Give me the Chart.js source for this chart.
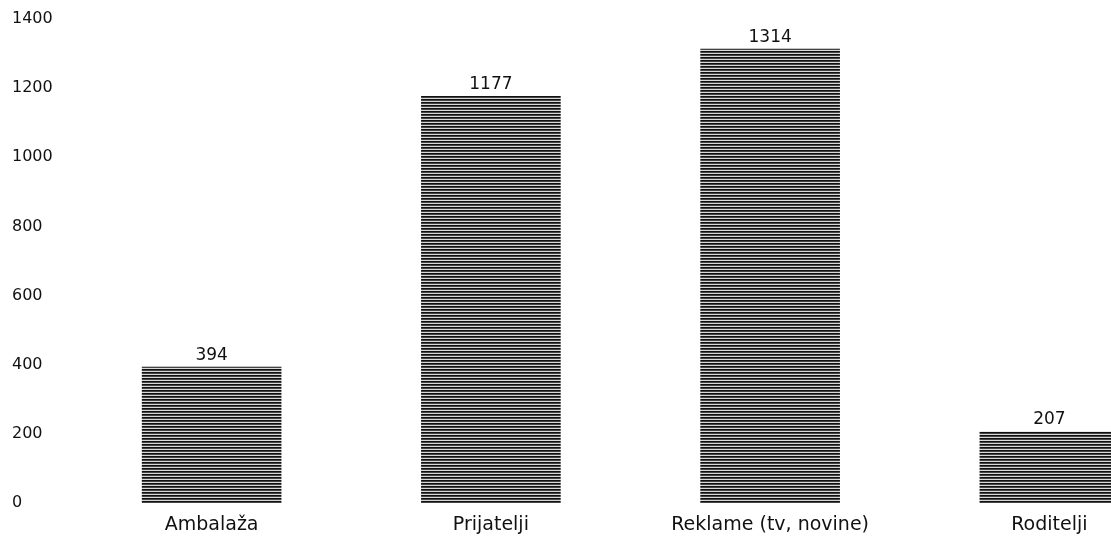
<!DOCTYPE html>
<html>
<head>
<meta charset="utf-8">
<script src="https://cdn.jsdelivr.net/npm/chart.js@4"></script>
<style>
  html, body { margin: 0; padding: 0; background: #fff; overflow: hidden; }
  #wrap { width: 1111px; height: 541px; overflow: hidden; }
</style>
</head>
<body>
<div id="wrap">
  <canvas id="myChart" width="1189" height="541"></canvas>
</div>
<script>
var categories = ['Ambalaža', 'Prijatelji', 'Reklame (tv, novine)', 'Roditelji'];
var counts = [394, 1177, 1314, 207];
var yTicks = [0, 200, 400, 600, 800, 1000, 1200, 1400];

// horizontal stripe fill, like the old spreadsheet hatch
function makeStripes() {
  var c = document.createElement('canvas');
  c.width = 4; c.height = 3;
  var g = c.getContext('2d');
  g.fillStyle = '#d8d8d8';
  g.fillRect(0, 0, 4, 3);
  g.fillStyle = '#111';
  g.fillRect(0, 0, 4, 1);
  g.fillStyle = '#444';
  g.fillRect(0, 1, 4, 1);
  return g.createPattern(c, 'repeat');
}

var valueLabels = {
  id: 'valueLabels',
  afterDatasetsDraw: function(chart) {
    var ctx = chart.ctx;
    var meta = chart.getDatasetMeta(0);
    ctx.save();
    ctx.font = '17px "DejaVu Sans"';
    ctx.fillStyle = '#111';
    ctx.textAlign = 'center';
    ctx.textBaseline = 'bottom';
    meta.data.forEach(function(bar, i) {
      ctx.fillText(String(counts[i]), bar.x, bar.y - 3);
    });
    ctx.restore();
  }
};

var ctx = document.getElementById('myChart').getContext('2d');
var mychart = new Chart(ctx, {
  type: 'bar',
  data: {
    labels: categories,
    datasets: [{
      data: counts,
      backgroundColor: makeStripes(),
      borderWidth: 0,
      categoryPercentage: 1,
      barPercentage: 0.5
    }]
  },
  options: {
    responsive: false,
    animation: false,
    layout: { padding: { left: 12, top: 19, right: 0, bottom: 0 } },
    plugins: {
      legend: { display: false },
      tooltip: { enabled: false }
    },
    scales: {
      x: {
        grid: { display: false, drawTicks: false },
        border: { display: false },
        ticks: {
          color: '#111',
          font: { family: 'DejaVu Sans', size: 19 },
          padding: 11,
          maxRotation: 0
        },
        afterFit: function(scale) { scale.height = 38; }
      },
      y: {
        min: 0,
        max: 1400,
        grid: { display: false, drawTicks: false },
        border: { display: false },
        afterBuildTicks: function(scale) {
          scale.ticks = yTicks.map(function(v) { return { value: v }; });
        },
        ticks: {
          color: '#111',
          crossAlign: 'far',
          font: { family: 'DejaVu Sans', size: 16 },
          callback: function(v) { return String(v); }
        },
        afterFit: function(scale) { scale.width = 60; }
      }
    }
  },
  plugins: [valueLabels]
});
</script>
</body>
</html>
